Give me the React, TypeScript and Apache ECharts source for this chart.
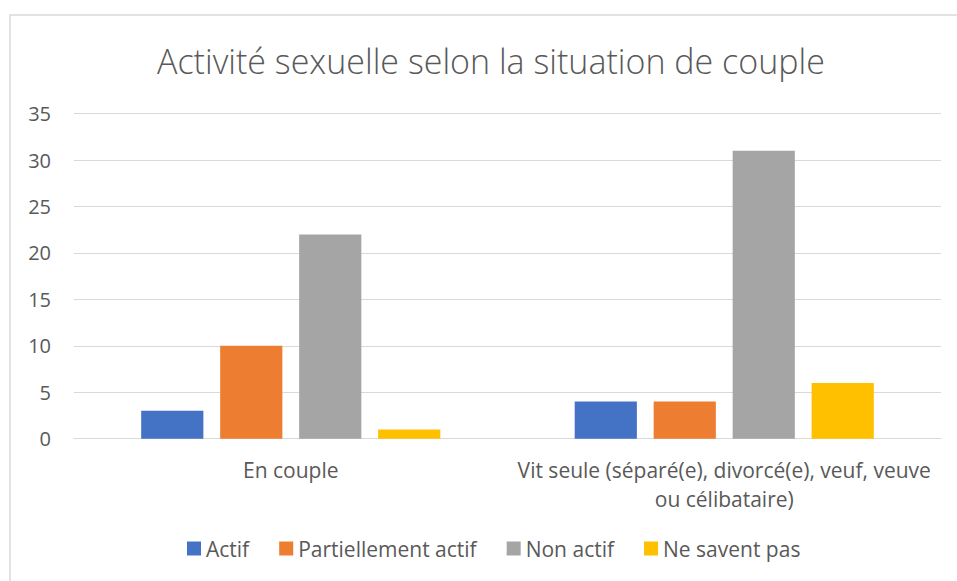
import React, { useEffect, useRef } from "react";
import * as echarts from "echarts";

const title = "Activité sexuelle selon la situation de couple";
const categories = [
  "En couple",
  "Vit seule (séparé(e), divorcé(e), veuf, veuve\nou célibataire)",
];
const seriesNames = ["Actif", "Partiellement actif", "Non actif", "Ne savent pas"];
const actif = [3, 4];
const partiellement = [10, 4];
const nonActif = [22, 31];
const neSaventPas = [1, 6];
const colors = ["#4472C4", "#ED7D31", "#A5A5A5", "#FFC000"];

const FONT = "'Open Sans', 'Noto Sans', sans-serif";

export default function App() {
  const ref = useRef<HTMLDivElement>(null);
  useEffect(() => {
    if (!ref.current) return;
    const chart = echarts.init(ref.current, undefined, { renderer: "svg" });
    const values = [actif, partiellement, nonActif, neSaventPas];
    chart.setOption({
      animation: false,
      textStyle: { fontFamily: FONT },
      title: {
        text: title,
        left: 152,
        top: 39,
        textStyle: { fontFamily: FONT, fontSize: 34, fontWeight: 300, color: "#595959" },
      },
      graphic: [
        {
          type: "rect",
          shape: { x: 10, y: 15, width: 970, height: 600 },
          style: { fill: "none", stroke: "#d9d9d9", lineWidth: 1.5 },
          silent: true,
        },
      ],
      legend: {
        top: 533,
        left: 182,
        itemWidth: 14,
        itemHeight: 14,
        itemGap: 30,
        icon: "rect",
        textStyle: { fontFamily: FONT, fontSize: 21, color: "#595959" },
        data: seriesNames,
      },
      grid: { left: 74, right: 16, top: 113.7, bottom: 142.3 },
      xAxis: {
        type: "category",
        data: categories,
        axisLine: { lineStyle: { color: "#d9d9d9", width: 1 } },
        axisTick: { show: false },
        axisLabel: {
          fontFamily: FONT,
          fontSize: 21,
          color: "#595959",
          margin: 17,
          lineHeight: 29,
          interval: 0,
        },
      },
      yAxis: {
        type: "value",
        min: 0,
        max: 35,
        interval: 5,
        axisLine: { show: false },
        axisTick: { show: false },
        splitLine: { lineStyle: { color: "#d9d9d9", width: 1 } },
        axisLabel: { fontFamily: FONT, fontSize: 20, color: "#595959", margin: 23 },
      },
      series: seriesNames.map((name, i) => ({
        name,
        type: "bar",
        data: values[i],
        barGap: "27%",
        barCategoryGap: "31%",
        itemStyle: { color: colors[i] },
      })),
    });
    return () => chart.dispose();
  }, []);
  return (
    <div
      ref={ref}
      style={{ position: "fixed", left: 0, top: 0, width: 957, height: 581, background: "#fff" }}
    />
  );
}
